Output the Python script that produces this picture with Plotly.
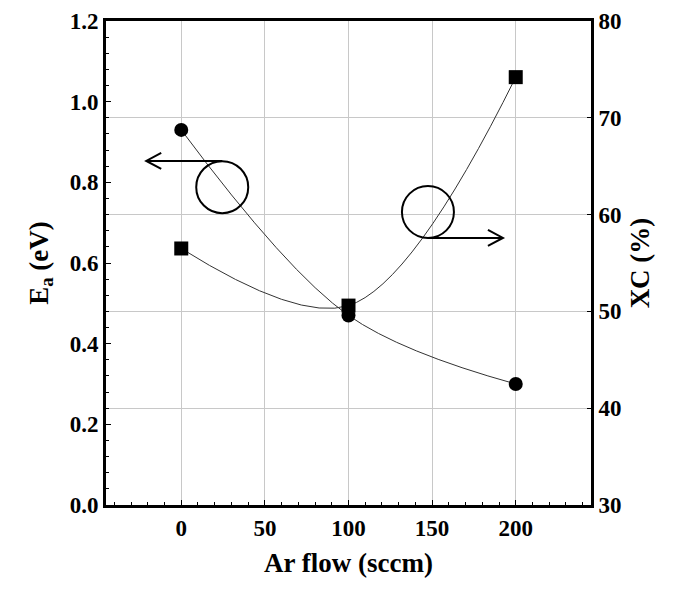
import plotly.graph_objects as go

ar_flow = [0, 100, 200]
ea_values = [0.93, 0.47, 0.30]
xc_values = [56.5, 50.6, 74.2]

x_ticks = [0, 50, 100, 150, 200]
left_ticks = [0.0, 0.2, 0.4, 0.6, 0.8, 1.0, 1.2]
right_ticks = [30, 40, 50, 60, 70, 80]

FONT = "Liberation Serif"

fig = go.Figure()
fig.add_trace(go.Scatter(
    x=ar_flow, y=ea_values, mode="lines+markers",
    line=dict(shape="spline", color="#333333", width=1),
    marker=dict(symbol="circle", size=14, color="black"),
    showlegend=False, yaxis="y"))
fig.add_trace(go.Scatter(
    x=ar_flow, y=xc_values, mode="lines+markers",
    line=dict(shape="spline", color="#333333", width=1),
    marker=dict(symbol="square", size=14, color="black"),
    showlegend=False, yaxis="y2"))

tickfont = dict(family=FONT, size=23, color="black", weight="bold")
titlefont = dict(family=FONT, size=27, color="black", weight="bold")

fig.update_layout(
    width=687, height=592,
    margin=dict(l=98, r=104, t=13, b=95, autoexpand=False),
    paper_bgcolor="white", plot_bgcolor="white",
    xaxis=dict(
        range=[-45, 245], tickvals=x_ticks, ticktext=[str(v) for v in x_ticks],
        showgrid=True, gridcolor="#c8c8c8", gridwidth=1,
        showline=True, linecolor="black", linewidth=3, mirror=True,
        ticks="inside", ticklen=5, tickcolor="black",
        minor=dict(dtick=10, tick0=0, ticks="inside", ticklen=3, tickcolor="black", showgrid=False),
        tickfont=tickfont, zeroline=False, automargin=False,
        title=dict(text="Ar flow (sccm)", font=titlefont, standoff=14),
    ),
    yaxis=dict(
        range=[0, 1.2], tickvals=left_ticks, ticktext=[f"{v:.1f}" for v in left_ticks],
        showgrid=False, showline=True, linecolor="black", linewidth=3,
        ticks="inside", ticklen=5, tickcolor="black",
        minor=dict(dtick=0.04, tick0=0, ticks="inside", ticklen=3, tickcolor="black", showgrid=False),
        tickfont=tickfont, zeroline=False, automargin=False,
        title=dict(text="E<sub>a</sub> (eV)", font=titlefont, standoff=14),
    ),
    yaxis2=dict(
        range=[30, 80], tickvals=right_ticks, ticktext=[str(v) for v in right_ticks],
        overlaying="y", side="right",
        showgrid=True, gridcolor="#c8c8c8", gridwidth=1,
        showline=True, linecolor="black", linewidth=3,
        ticks="inside", ticklen=4, tickcolor="black",
        tickfont=tickfont, zeroline=False, automargin=False,
        title=dict(text="XC (%)", font=titlefont, standoff=10),
    ),
)

# Circle + arrow markers indicating which axis each curve belongs to
circle_style = dict(color="black", width=2)
fig.add_shape(type="circle", xref="x", yref="y", xsizemode="pixel", ysizemode="pixel",
              xanchor=24.5, yanchor=0.788, x0=-26, x1=26, y0=-26, y1=26,
              line=circle_style)
fig.add_shape(type="path", xref="x", yref="y", xsizemode="pixel", ysizemode="pixel",
              xanchor=24.5, yanchor=0.853,
              path="M 0 0 L -76 0 M -61 -8 L -76 0 L -61 8",
              line=circle_style)
fig.add_shape(type="circle", xref="x", yref="y", xsizemode="pixel", ysizemode="pixel",
              xanchor=147.5, yanchor=0.7265, x0=-26, x1=26, y0=-26, y1=26,
              line=circle_style)
fig.add_shape(type="path", xref="x", yref="y", xsizemode="pixel", ysizemode="pixel",
              xanchor=147.5, yanchor=0.662,
              path="M 0 0 L 75 0 M 60 8 L 75 0 L 60 -8",
              line=circle_style)

fig.write_html("out.html")
